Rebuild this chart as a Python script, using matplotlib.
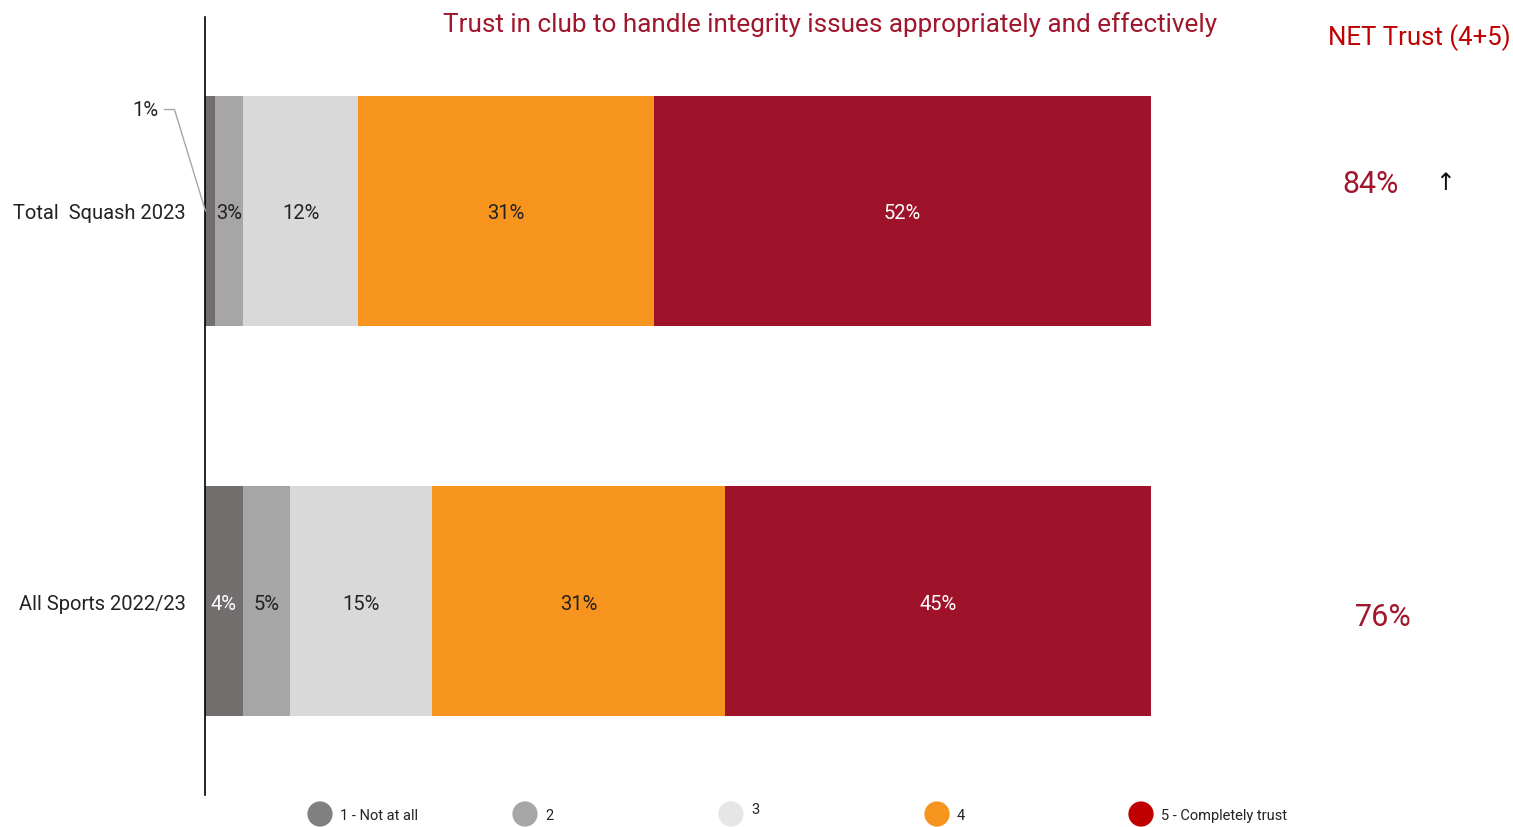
import matplotlib
matplotlib.use("Agg")
import matplotlib.pyplot as plt
import numpy as np

plt.rcParams['font.family'] = ['Roboto', 'DejaVu Sans']

# Survey data
categories = ["Total  Squash 2023", "All Sports 2022/23"]
levels = ["1 - Not at all", "2", "3", "4", "5 - Completely trust"]
values = np.array([
    [1, 3, 12, 31, 52],
    [4, 5, 15, 31, 45],
])
net_trust = [84, 76]

bar_colors = ["#736E6E", "#A6A6A6", "#D9D9D9", "#F7941E", "#9E1329"]
legend_colors = ["#808080", "#A6A6A6", "#E6E6E6", "#F7941E", "#C00000"]
label_colors = [
    ["#333333", "#222222", "#222222", "#222222", "#FFFFFF"],
    ["#FFFFFF", "#222222", "#222222", "#222222", "#FFFFFF"],
]
title_color = "#A0162C"
net_color = "#C00000"

W, H = 1513, 828
fig = plt.figure(figsize=(W / 100, H / 100), dpi=100)
ax = fig.add_axes([205 / W, 1 - 796 / H, 946 / W, 778 / H])

# Each row is scaled to fill 100% of the bar
shares = values / values.sum(axis=1, keepdims=True) * 100
y = np.arange(len(categories))
bar_h = 0.59
left = np.zeros(len(categories))
for j in range(len(levels)):
    ax.barh(y, shares[:, j], left=left, height=bar_h, color=bar_colors[j],
            edgecolor="none", zorder=2)
    for i in range(len(categories)):
        if values[i, j] < 2:
            continue
        ax.text(left[i] + shares[i, j] / 2, y[i], f"{values[i, j]}%",
                ha="center", va="center_baseline", fontsize=14.5,
                color=label_colors[i][j], zorder=3)
    left += shares[:, j]

# Small segment labelled outside with a leader line
ax.annotate(f"{values[0, 0]}%", xy=(0.05, y[0]),
            xytext=(-4.9, y[0] - 0.265), textcoords="data",
            ha="right", va="center_baseline", fontsize=14.5, color="#222222",
            annotation_clip=False,
            arrowprops=dict(arrowstyle="-", color="#A6A6A6", lw=1,
                            shrinkA=2, shrinkB=0,
                            connectionstyle="angle,angleA=0,angleB=-73,rad=0"))

ax.set_xlim(0, 100)
ax.set_ylim(y[-1] + 0.497, y[0] - 0.497)
ax.set_yticks(y)
ax.set_yticklabels(categories, fontsize=14.5, color="#222222")
for lbl in ax.get_yticklabels():
    lbl.set_verticalalignment("center_baseline")
ax.tick_params(axis="y", length=0, pad=14)
ax.set_xticks([])
for s in ["top", "right", "bottom"]:
    ax.spines[s].set_visible(False)
ax.spines["left"].set_color("#000000")
ax.spines["left"].set_linewidth(1.2)

# Title and NET column
fig.text(830 / W, 1 - 25 / H, "Trust in club to handle integrity issues appropriately and effectively",
         ha="center", va="center", fontsize=18.8, color=title_color)
fig.text(1419 / W, 1 - 38 / H, "NET Trust (4+5)", ha="center", va="center",
         fontsize=18.5, color=net_color)
net_x = [1371, 1383]
net_dy = [-0.07, 0.04]
for i, v in enumerate(net_trust):
    ax.text(1.0 + (net_x[i] - 1151) / 946, y[i] + net_dy[i], f"{v}%",
            transform=ax.get_yaxis_transform(), ha="center", va="center",
            fontsize=22, color=title_color, clip_on=False)
ax.text(1.0 + (1445 - 1151) / 946, y[0] - 0.075, "\u2191",
        transform=ax.get_yaxis_transform(), ha="center", va="center",
        fontsize=17, color="#111111", family=["DejaVu Sans"], clip_on=False)

# Legend along the bottom
lax = fig.add_axes([0, 0, 1, 1], facecolor="none")
lax.set_xlim(0, W)
lax.set_ylim(H, 0)
lax.axis("off")
legend_x = [320, 525, 731, 937, 1141]
for k, (lx, lab) in enumerate(zip(legend_x, levels)):
    lax.scatter([lx], [815], s=330, color=legend_colors[k], edgecolor="none",
                clip_on=False)
    ty = 810 if lab == "3" else 816
    lax.text(lx + 20, ty, lab, ha="left", va="center", fontsize=10.5,
             color="#222222")

fig.savefig("out.png", dpi=100)
